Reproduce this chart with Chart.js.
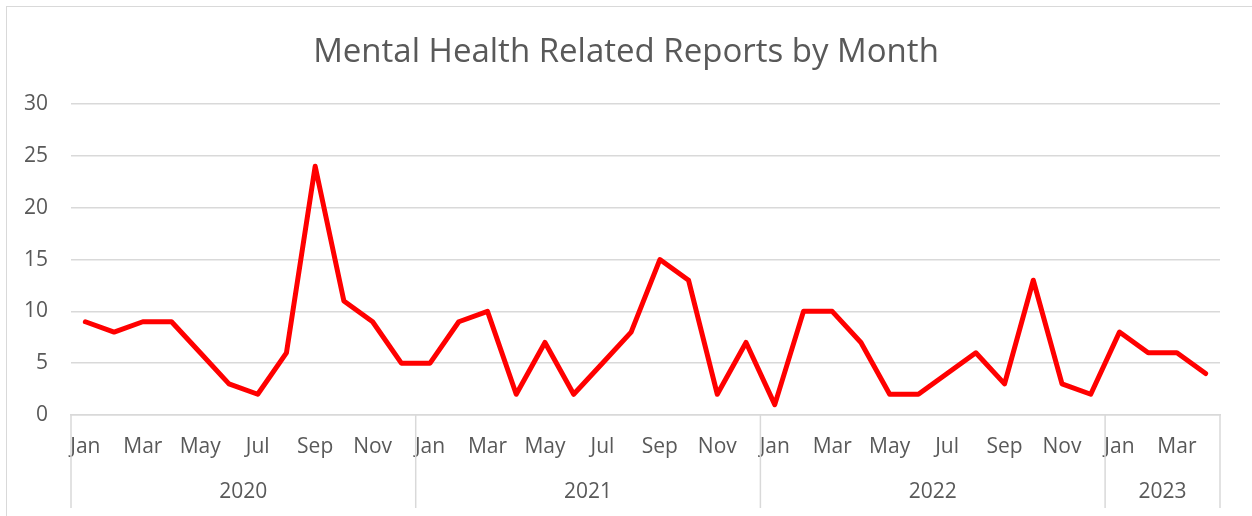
<!DOCTYPE html>
<html>
<head>
<meta charset="utf-8">
<script src="https://cdn.jsdelivr.net/npm/chart.js@4"></script>
<style>
  html, body { margin: 0; padding: 0; background: #fff; }
  #wrap { position: relative; width: 1252px; height: 516px; }
  #frame { position: absolute; left: 6px; top: 6px; right: -2px; bottom: -2px;
           border-top: 1.5px solid #d9d9d9; border-left: 1.5px solid #d9d9d9; }
  canvas { position: absolute; left: 0; top: 0; }
</style>
</head>
<body>
<div id="wrap">
  <div id="frame"></div>
  <canvas id="mychart" width="1252" height="516"></canvas>
</div>
<script>
// month labels, one per point
var months = ['Jan','Feb','Mar','Apr','May','Jun','Jul','Aug','Sep','Oct','Nov','Dec',
              'Jan','Feb','Mar','Apr','May','Jun','Jul','Aug','Sep','Oct','Nov','Dec',
              'Jan','Feb','Mar','Apr','May','Jun','Jul','Aug','Sep','Oct','Nov','Dec',
              'Jan','Feb','Mar','Apr'];
// year groups and how many months each one covers
var years = ['2020','2021','2022','2023'];
var yearCounts = [12, 12, 12, 4];
// reports per month
var reports = [9,8,9,9,6,3,2,6,24,11,9,5,
               5,9,10,2,7,2,5,8,15,13,2,7,
               1,10,10,7,2,2,4,6,3,13,3,2,
               8,6,6,4];
var yTicks = [0, 5, 10, 15, 20, 25, 30];

var textColor = '#595959';
var gridColor = '#d9d9d9';
var fontFamily = '"Open Sans", sans-serif';
var labelSize = 21;

// draws year labels under the month labels plus the divider lines
var yearAxisPlugin = {
    id: 'yearAxis',
    afterDraw: function(chart) {
        var ctx = chart.ctx;
        var x = chart.scales.x;
        var area = chart.chartArea;
        var half = (x.getPixelForValue(1) - x.getPixelForValue(0)) / 2;
        var lineBottom = area.bottom + 93;
        ctx.save();
        ctx.strokeStyle = gridColor;
        ctx.lineWidth = 1.5;
        ctx.fillStyle = textColor;
        ctx.font = labelSize + 'px ' + fontFamily;
        ctx.textAlign = 'center';
        ctx.textBaseline = 'middle';
        var start = 0;
        for (var i = 0; i < years.length; i++) {
            var left = x.getPixelForValue(start) - half;
            var right = x.getPixelForValue(start + yearCounts[i] - 1) + half;
            ctx.beginPath();
            ctx.moveTo(left, area.bottom);
            ctx.lineTo(left, lineBottom);
            ctx.stroke();
            if (i == years.length - 1) {
                ctx.beginPath();
                ctx.moveTo(right, area.bottom);
                ctx.lineTo(right, lineBottom);
                ctx.stroke();
            }
            ctx.fillText(years[i], (left + right) / 2, area.bottom + 77);
            start += yearCounts[i];
        }
        ctx.restore();
    }
};

var ctx = document.getElementById('mychart');
var lineChart = new Chart(ctx, {
    type: 'line',
    data: {
        labels: months,
        datasets: [{
            label: 'Reports',
            data: reports,
            borderColor: '#ff0000',
            borderWidth: 5,
            pointRadius: 0,
            tension: 0,
            borderJoinStyle: 'round',
            borderCapStyle: 'round'
        }]
    },
    options: {
        responsive: false,
        animation: false,
        layout: { padding: 0 },
        plugins: {
            legend: { display: false },
            tooltip: { enabled: false },
            title: {
                display: true,
                text: 'Mental Health Related Reports by Month',
                color: textColor,
                font: { family: fontFamily, size: 33, weight: 'normal' },
                padding: { top: 33, bottom: 31.5 }
            }
        },
        scales: {
            x: {
                offset: true,
                grid: { display: false },
                border: { display: true, color: gridColor, width: 1.5 },
                ticks: {
                    color: textColor,
                    font: { family: fontFamily, size: labelSize },
                    maxRotation: 0,
                    autoSkip: false,
                    padding: 11,
                    callback: function(val, index) {
                        return index % 2 == 0 ? months[index] : '';
                    }
                },
                afterFit: function(scale) { scale.height = 101; }
            },
            y: {
                min: 0,
                max: 30,
                afterBuildTicks: function(scale) {
                    scale.ticks = yTicks.map(function(v) { return { value: v }; });
                },
                grid: { color: gridColor, lineWidth: 1.5, drawTicks: false },
                border: { display: false },
                ticks: {
                    color: textColor,
                    font: { family: fontFamily, size: labelSize },
                    padding: 23
                },
                afterFit: function(scale) { scale.width = 71; }
            },
            // empty right-hand axis, only keeps the blank margin on the right
            yRight: {
                position: 'right',
                grid: { display: false },
                border: { display: false },
                ticks: { display: false },
                afterFit: function(scale) { scale.width = 32; }
            }
        }
    },
    plugins: [yearAxisPlugin]
});
</script>
</body>
</html>
